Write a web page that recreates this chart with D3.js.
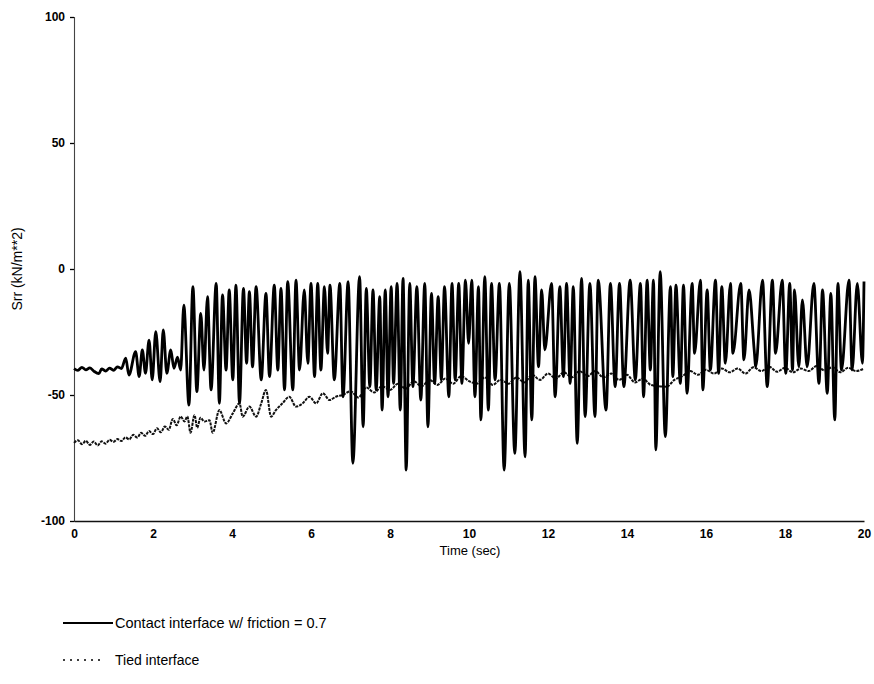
<!DOCTYPE html>
<html>
<head>
<meta charset="utf-8">
<script src="https://cdn.jsdelivr.net/npm/d3@7"></script>
<style>
  body { margin: 0; background: #fff; }
  svg { display: block; }
  text { font-family: "Liberation Sans", Arial, sans-serif; fill: #000; }
</style>
</head>
<body>
<svg id="chart" width="874" height="684"></svg>
<script>
// ---- Data ----
const xTicks = [0, 2, 4, 6, 8, 10, 12, 14, 16, 18, 20];
const yTicks = [100, 50, 0, -50, -100];
const seriesNames = ["Contact interface w/ friction = 0.7", "Tied interface"];

// Contact interface (turning points of the signal)
const contactTime = [
  0, 0.1, 0.2, 0.3, 0.4, 0.5, 0.63, 0.7, 0.8, 0.9, 1.0, 1.1, 1.2,
  1.31, 1.39, 1.56, 1.65, 1.73, 1.81, 1.90, 1.98, 2.07, 2.18, 2.26, 2.35, 2.45, 2.53, 2.62, 2.70,
  2.78, 2.91, 3.01, 3.11, 3.21, 3.29,
  3.38, 3.47, 3.60, 3.68, 3.76, 3.85, 3.93, 4.02, 4.10, 4.19, 4.29, 4.37, 4.44, 4.52, 4.61, 4.74,
  4.86, 4.95, 5.07, 5.16, 5.24, 5.33, 5.41, 5.54, 5.62, 5.71, 5.83, 5.92, 6.00, 6.09, 6.17, 6.25,
  6.34, 6.42, 6.48, 6.59,
  6.73, 6.81, 6.94, 7.06, 7.23, 7.32, 7.40, 7.49, 7.57, 7.65, 7.74, 7.80, 7.88, 7.95, 8.03, 8.09,
  8.18, 8.26, 8.33, 8.41, 8.50, 8.58, 8.68, 8.78, 8.88, 8.96, 9.05, 9.13, 9.22, 9.30, 9.38, 9.49,
  9.57, 9.65, 9.74, 9.82, 9.91, 9.99,
  10.07, 10.15, 10.24, 10.30, 10.40, 10.49, 10.57, 10.66, 10.77, 10.89, 11.02, 11.16, 11.29, 11.42,
  11.50, 11.59, 11.67, 11.76, 11.84, 11.92, 12.09, 12.18, 12.30, 12.39, 12.47, 12.56, 12.64, 12.74,
  12.85, 12.94, 13.06, 13.19, 13.27,
  13.47, 13.58, 13.70, 13.81, 13.92, 14.08, 14.21, 14.34, 14.42, 14.51, 14.59, 14.67, 14.73, 14.84,
  14.97, 15.10, 15.16, 15.24, 15.35, 15.43, 15.52, 15.65, 15.71, 15.86, 15.92, 16.03, 16.11, 16.24,
  16.32, 16.40, 16.49, 16.62, 16.68,
  16.88, 16.96, 17.09, 17.22, 17.26, 17.43, 17.55, 17.68, 17.76, 17.93, 18.02, 18.12, 18.19, 18.24,
  18.35, 18.44, 18.56, 18.73, 18.86, 18.95, 19.07, 19.16, 19.26, 19.34, 19.43, 19.62, 19.70, 19.83,
  19.96, 20.0
];
const contactValue = [
  -39.5, -40.2, -39.0, -40.0, -39.2, -40.5, -41.5, -39.6, -40.5, -39.3, -40.2, -38.8, -39.5,
  -35.4, -42.1, -32.8, -42.7, -32.1, -41.4, -28.2, -44.0, -24.9, -44.7, -24.2, -41.4, -32.1, -39.4, -35.0, -40.1,
  -14.3, -54.0, -7.0, -48.7, -17.6, -40.1,
  -11.0, -48.0, -5.7, -53.3, -10.3, -40.1, -8.3, -44.0, -6.4, -53.3, -7.7, -37.4, -9.0, -38.8, -7.0, -44.0,
  -9.7, -42.7, -6.4, -40.1, -7.7, -48.0, -5.0, -48.0, -4.4, -40.1, -8.3, -37.4, -5.7, -42.7, -5.7, -40.1,
  -7.0, -33.5, -6.4, -44.0,
  -5.7, -50.7, -5.0, -77.1, -3.0, -62.6, -7.7, -46.7, -8.3, -48.0, -11.0, -56.0, -8.3, -50.7, -7.0, -45.4,
  -5.7, -56.0, -3.7, -79.8, -5.7, -46.7, -7.0, -52.0, -5.7, -62.6, -9.7, -45.4, -11.0, -44.0, -7.0, -50.7,
  -5.7, -44.0, -5.7, -45.4, -4.4, -29.5,
  -4.4, -50.7, -7.0, -59.9, -3.0, -56.0, -5.7, -44.0, -5.7, -79.8, -5.7, -73.2, -1.1, -74.5,
  -4.4, -59.9, -3.0, -38.8, -8.3, -32.1, -5.7, -50.7, -7.0, -42.7, -5.7, -45.4, -7.0, -69.2,
  -3.7, -58.6, -5.7, -58.6, -4.4,
  -56.0, -5.7, -46.7, -5.7, -46.7, -4.4, -44.0, -5.7, -50.7, -4.4, -40.1, -4.4, -71.8, -1.1,
  -66.5, -7.0, -42.7, -6.4, -45.4, -6.4, -49.3, -5.7, -33.5, -4.4, -48.0, -8.3, -40.1, -4.4,
  -41.4, -7.0, -37.4, -5.7, -33.5,
  -5.7, -36.1, -8.3, -32.1, -38.8, -4.4, -46.7, -4.4, -33.5, -4.4, -41.4, -5.7, -40.1, -8.3,
  -38.8, -12.3, -38.8, -5.7, -45.4, -8.3, -49.3, -9.7, -59.9, -5.7, -40.1, -4.4, -40.1, -5.7,
  -37.4, -5.0
];

// Tied interface
const tiedTime = [
  0, 0.1, 0.2, 0.3, 0.4, 0.5, 0.6, 0.7, 0.8, 0.9, 1.0, 1.1, 1.2, 1.3, 1.4, 1.5, 1.6, 1.7, 1.8, 1.9,
  2.0, 2.1, 2.2, 2.3, 2.4, 2.5, 2.6, 2.7, 2.8, 2.87, 2.95, 3.05, 3.12, 3.2, 3.3,
  3.43, 3.51, 3.68, 3.85, 4.02, 4.19, 4.27, 4.44, 4.61, 4.74, 4.86, 4.99, 5.11, 5.28, 5.45, 5.62,
  5.79, 5.96, 6.13, 6.30, 6.47, 6.63,
  6.8, 7.0, 7.2, 7.4, 7.6, 7.8, 8.0, 8.2, 8.4, 8.6, 8.8, 9.0, 9.2, 9.4, 9.6, 9.8, 10.0,
  10.2, 10.4, 10.6, 10.8, 11.0, 11.2, 11.4, 11.6, 11.8, 12.0, 12.2, 12.4, 12.6, 12.8, 13.0, 13.2,
  13.4, 13.6, 13.8, 14.0, 14.2, 14.4, 14.6, 14.8, 15.0, 15.2, 15.4, 15.6, 15.8, 16.0, 16.2, 16.4, 16.6,
  16.8, 17.0, 17.2, 17.4, 17.6, 17.8, 18.0, 18.2, 18.4, 18.6, 18.8, 19.0, 19.2, 19.4, 19.6, 19.8, 20.0
];
const tiedValue = [
  -69.0, -68.0, -69.5, -68.2, -69.8, -68.5, -70.0, -68.4, -69.3, -67.8, -68.6, -67.5, -68.3, -66.8, -67.6, -65.8, -66.9, -65.0, -66.2, -64.3,
  -65.5, -63.2, -64.8, -62.5, -63.8, -59.5, -62.0, -58.5, -60.5, -58.5, -65.0, -58.0, -63.0, -59.0, -60.5,
  -60.0, -65.0, -56.0, -61.3, -57.3, -53.3, -58.6, -54.6, -58.6, -53.3, -48.0, -58.6, -56.0, -53.3, -50.7, -54.6,
  -53.3, -50.7, -53.3, -49.3, -52.0, -50.7,
  -50.0, -48.5, -51.0, -47.0, -49.0, -46.5, -48.0, -45.5, -47.5, -44.5, -46.5, -44.0, -46.0, -43.5, -45.5, -42.5, -44.5,
  -45.5, -43.0, -46.0, -44.0, -45.5, -43.0, -45.0, -42.0, -44.0, -41.5, -43.5, -41.0, -43.0, -40.5, -42.5, -40.5,
  -43.0, -41.5, -44.0, -42.0, -45.0, -43.5, -46.0, -46.5, -46.7, -44.0, -42.5, -40.5, -42.0, -40.0, -41.5, -39.5, -41.0,
  -39.5, -41.5, -39.0, -40.5, -38.8, -40.8, -39.2, -41.0, -39.5, -40.5, -38.5, -40.2, -39.0, -41.0, -39.2, -40.5, -39.5
];

// ---- Drawing ----
const svg = d3.select("#chart");
const x = d3.scaleLinear().domain([0, 20]).range([74, 864]);
const y = d3.scaleLinear().domain([-100, 100]).range([521, 17]);
const fmt = d => String(d); // plain hyphen-minus as in the reference

const contact = contactTime.map((t, i) => [t, contactValue[i]]);
const tied = tiedTime.map((t, i) => [t, tiedValue[i]]);

// Y axis
const yAxis = svg.append("g")
  .attr("transform", `translate(${x(0)},0)`)
  .call(d3.axisLeft(y).tickValues(yTicks).tickSize(4).tickPadding(5).tickFormat(fmt));
yAxis.select(".domain").attr("stroke", "#444").attr("stroke-width", 1.1);
yAxis.selectAll(".tick line").attr("stroke", "#000").attr("stroke-width", 1.3);
yAxis.selectAll(".tick text")
  .style("font-family", '"Liberation Sans", Arial, sans-serif')
  .style("font-size", "12px").style("font-weight", "bold").attr("fill", "#000");

// X axis
const xAxis = svg.append("g")
  .attr("transform", `translate(0,${y(-100)})`)
  .call(d3.axisBottom(x).tickValues(xTicks).tickSize(0).tickPadding(8).tickFormat(fmt));
xAxis.select(".domain").attr("stroke", "#111").attr("stroke-width", 1.5);
xAxis.selectAll(".tick text")
  .style("font-family", '"Liberation Sans", Arial, sans-serif')
  .style("font-size", "12px").style("font-weight", "bold").attr("fill", "#000");

// Axis titles
svg.append("text")
  .attr("x", 470).attr("y", 555)
  .attr("text-anchor", "middle")
  .style("font-size", "13px")
  .text("Time (sec)");

svg.append("text")
  .attr("transform", `translate(22,${y(0)}) rotate(-90)`)
  .attr("text-anchor", "middle")
  .style("font-size", "14px")
  .text("Srr (kN/m**2)");

// Lines
const line = d3.line().x(d => x(d[0])).y(d => y(d[1])).curve(d3.curveMonotoneX);

svg.append("path")
  .datum(tied)
  .attr("fill", "none")
  .attr("stroke", "#111")
  .attr("stroke-width", 2)
  .attr("stroke-dasharray", "3,1")
  .attr("d", line);

svg.append("path")
  .datum(contact)
  .attr("fill", "none")
  .attr("stroke", "#000")
  .attr("stroke-width", 2.8)
  .attr("stroke-linejoin", "round")
  .attr("d", line);

// Legend
const legend = svg.append("g");
legend.append("line")
  .attr("x1", 63).attr("x2", 113).attr("y1", 623).attr("y2", 623)
  .attr("stroke", "#000").attr("stroke-width", 2);
legend.append("text")
  .attr("x", 115).attr("y", 628)
  .style("font-size", "14.5px")
  .text(seriesNames[0]);
legend.append("line")
  .attr("x1", 63).attr("x2", 100).attr("y1", 660).attr("y2", 660)
  .attr("stroke", "#000").attr("stroke-width", 1.5)
  .attr("stroke-dasharray", "2,5");
legend.append("text")
  .attr("x", 115).attr("y", 665)
  .style("font-size", "14px")
  .text(seriesNames[1]);
</script>
</body>
</html>
